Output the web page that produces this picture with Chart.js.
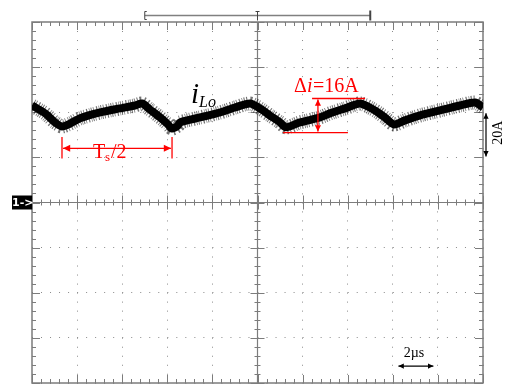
<!DOCTYPE html>
<html>
<head>
<meta charset="utf-8">
<script src="https://cdn.jsdelivr.net/npm/chart.js@4.4.1/dist/chart.umd.min.js"></script>
<style>
  html, body { margin: 0; padding: 0; background: #fff; }
  #wrap { width: 506px; height: 385px; position: relative; }
</style>
</head>
<body>
<div id="wrap"><canvas id="scope"></canvas></div>
<script>
// time axis: 10 div x 2 us/div, amplitude: 8 div x 20 A/div
const TIME_US = [0, 0.58, 1.02, 1.33, 1.69, 2.13, 3.02, 3.90, 4.57, 4.88, 5.23, 5.68, 6.03, 6.21, 6.47,
  6.56, 7.45, 8.34, 9.00, 9.67, 10.11, 10.55, 11.00, 11.26, 11.88, 12.77, 13.21, 13.88, 14.55,
  15.21, 15.65, 16.05, 16.54, 17.21, 18.09, 18.98, 19.65, 20];
const I_LO_A = [43.0, 39.5, 35.5, 33.7, 35.0, 37.3, 39.9, 41.7, 43.0, 43.9, 41.2, 37.7, 34.6, 32.8, 34.1,
  35.5, 37.7, 39.9, 42.1, 43.9, 41.7, 38.6, 35.5, 33.3, 35.5, 37.7, 39.5, 41.7, 43.9,
  40.8, 37.7, 34.6, 36.4, 38.6, 40.8, 43.0, 44.3, 42.1];

const X_MIN = 0, X_MAX = 20, X_DIV = 2;
const Y_MIN = -80, Y_MAX = 80, Y_DIV = 20;

const SERIF = '"Liberation Serif", "Times New Roman", serif';
const RED = '#ff0000';

function line(ctx, x1, y1, x2, y2) {
    ctx.beginPath();
    ctx.moveTo(x1, y1);
    ctx.lineTo(x2, y2);
    ctx.stroke();
}

function arrowHead(ctx, x1, y1, x2, y2, size) {
    const ang = Math.atan2(y2 - y1, x2 - x1);
    ctx.beginPath();
    ctx.moveTo(x2, y2);
    ctx.lineTo(x2 - size * Math.cos(ang - 0.45), y2 - size * Math.sin(ang - 0.45));
    ctx.lineTo(x2 - size * Math.cos(ang + 0.45), y2 - size * Math.sin(ang + 0.45));
    ctx.closePath();
    ctx.fill();
}

function doubleArrow(ctx, x1, y1, x2, y2, size) {
    line(ctx, x1, y1, x2, y2);
    arrowHead(ctx, x1, y1, x2, y2, size);
    arrowHead(ctx, x2, y2, x1, y1, size);
}

// frame, centre cross and the small division ticks
const scopeFrame = {
    id: 'scopeFrame',
    beforeDatasetsDraw(chart) {
        const { ctx, chartArea: a, scales: { x, y } } = chart;
        const cx = x.getPixelForValue((X_MIN + X_MAX) / 2);
        const cy = y.getPixelForValue(0);
        ctx.save();
        ctx.strokeStyle = '#7c7c7c';
        ctx.lineWidth = 1.5;
        ctx.strokeRect(a.left, a.top, a.right - a.left, a.bottom - a.top);
        ctx.lineWidth = 1.2;
        line(ctx, a.left, cy, a.right, cy);
        line(ctx, cx, a.top, cx, a.bottom);

        ctx.lineWidth = 1;
        const nx = (X_MAX - X_MIN) / X_DIV * 5;
        for (let i = 0; i <= nx; i++) {
            const px = Math.round(x.getPixelForValue(X_MIN + i * X_DIV / 5)) + 0.5;
            const major = i % 5 === 0;
            const L = major ? 8 : 4;
            line(ctx, px, a.top, px, a.top + L);
            line(ctx, px, a.bottom, px, a.bottom - L);
            line(ctx, px, cy - (major ? 7 : 3), px, cy + (major ? 7 : 3));
        }
        const ny = (Y_MAX - Y_MIN) / Y_DIV * 5;
        for (let i = 0; i <= ny; i++) {
            const py = Math.round(y.getPixelForValue(Y_MIN + i * Y_DIV / 5)) + 0.5;
            const major = i % 5 === 0;
            const L = major ? 8 : 4;
            line(ctx, a.left, py, a.left + L, py);
            line(ctx, a.right, py, a.right - L, py);
            line(ctx, cx - (major ? 7 : 3), py, cx + (major ? 7 : 3), py);
        }
        ctx.restore();
    },
    afterDraw(chart) {
        const { ctx, chartArea: a, scales: { x, y } } = chart;
        const cy = y.getPixelForValue(0);
        ctx.save();

        // top trigger/memory bar
        const bx1 = x.getPixelForValue(5), bx2 = x.getPixelForValue(15), bm = x.getPixelForValue(10);
        const by = 15.5;
        ctx.strokeStyle = '#808080';
        ctx.lineWidth = 1.5;
        line(ctx, bx1, by, bx2, by);
        ctx.strokeStyle = '#444';
        ctx.lineWidth = 1;
        line(ctx, bx1, by - 4, bx1, by + 4);
        line(ctx, bx1, by - 4, bx1 + 2, by - 4);
        line(ctx, bx1, by + 4, bx1 + 2, by + 4);
        line(ctx, bm, by - 4, bm, by + 5);
        line(ctx, bm - 2, by - 4, bm + 2, by - 4);
        ctx.lineWidth = 2;
        line(ctx, bx2, by - 5, bx2, by + 5);

        // channel marker
        ctx.fillStyle = '#000';
        ctx.fillRect(12, cy - 7, 20, 14);
        ctx.fillStyle = '#fff';
        ctx.font = 'bold 11px "DejaVu Sans", sans-serif';
        ctx.textBaseline = 'middle';
        ctx.textAlign = 'left';
        ctx.fillText('1->', 12, cy + 1);

        // trace label i_Lo
        ctx.fillStyle = '#000';
        ctx.textBaseline = 'alphabetic';
        ctx.font = 'italic 29px ' + SERIF;
        ctx.fillText('i', 191, 103);
        ctx.font = 'italic 16px ' + SERIF;
        ctx.fillText('Lo', 199, 107);

        // scale: 20 A/div on the right
        const ry1 = y.getPixelForValue(40), ry2 = y.getPixelForValue(20);
        ctx.strokeStyle = '#000';
        ctx.fillStyle = '#000';
        ctx.lineWidth = 1.2;
        doubleArrow(ctx, a.right + 3, ry1 + 1, a.right + 3, ry2 - 1, 6);
        ctx.save();
        ctx.translate(a.right + 15, (ry1 + ry2) / 2 - 2);
        ctx.rotate(-Math.PI / 2);
        ctx.font = '14px ' + SERIF;
        ctx.textAlign = 'center';
        ctx.textBaseline = 'middle';
        ctx.fillText('20A', 0, 0);
        ctx.restore();

        // scale: 2 us/div
        const tx1 = x.getPixelForValue(16.25), tx2 = x.getPixelForValue(17.8);
        const ty = y.getPixelForValue(-72.5);
        doubleArrow(ctx, tx1, ty, tx2, ty, 6);
        ctx.font = '14px ' + SERIF;
        ctx.textAlign = 'center';
        ctx.textBaseline = 'alphabetic';
        ctx.fillText('2\u00b5s', (tx1 + tx2) / 2 - 2, ty - 9);

        // red annotations: Ts/2
        ctx.strokeStyle = RED;
        ctx.fillStyle = RED;
        ctx.lineWidth = 1.3;
        const sx1 = x.getPixelForValue(1.33), sx2 = x.getPixelForValue(6.21);
        const sy = y.getPixelForValue(24);
        line(ctx, sx1, y.getPixelForValue(29), sx1, y.getPixelForValue(19.5));
        line(ctx, sx2, y.getPixelForValue(29), sx2, y.getPixelForValue(19.5));
        doubleArrow(ctx, sx1 + 1, sy, sx2 - 1, sy, 8);
        ctx.textAlign = 'left';
        ctx.font = '20px ' + SERIF;
        ctx.fillText('T', 93, 158);
        ctx.font = '13px ' + SERIF;
        ctx.fillText('s', 105, 161);
        ctx.font = '20px ' + SERIF;
        ctx.fillText('/2', 111, 158);

        // red annotations: delta i
        const dTop = y.getPixelForValue(46.1), dBot = y.getPixelForValue(31.0);
        line(ctx, x.getPixelForValue(12.42), dTop, x.getPixelForValue(14.77), dTop);
        line(ctx, x.getPixelForValue(11.13), dBot, x.getPixelForValue(14.01), dBot);
        const ax = x.getPixelForValue(12.68);
        doubleArrow(ctx, ax, dTop + 1, ax, dBot - 1, 7);
        ctx.font = '20px ' + SERIF;
        ctx.fillText('\u0394', 294, 92);
        ctx.font = 'italic 20px ' + SERIF;
        ctx.fillText('i', 307, 92);
        ctx.font = '20px ' + SERIF;
        ctx.fillText('=16A', 313, 92);

        ctx.restore();
    }
};

const points = TIME_US.map((t, i) => ({ x: t, y: I_LO_A[i] }));

new Chart(document.getElementById('scope'), {
    type: 'line',
    data: {
        datasets: [{
            label: 'iLo',
            data: points,
            borderColor: '#000',
            borderWidth: 8,
            borderCapStyle: 'butt',
            pointRadius: 0,
            tension: 0.25,
            fill: false,
            clip: 0,
        }, {
            // fuzzy edge of the noisy trace
            label: 'iLo band',
            data: points,
            borderColor: 'rgba(0,0,0,0.55)',
            borderWidth: 14,
            borderDash: [1, 1.3, 0.8, 2.2, 1.2, 1.6, 0.7, 1.1],
            borderCapStyle: 'butt',
            pointRadius: 0,
            tension: 0.25,
            fill: false,
            clip: 0,
        }],
    },
    options: {
        responsive: true,
        maintainAspectRatio: false,
        animation: false,
        layout: { padding: { left: 32, right: 23, top: 22, bottom: 2 } },
        plugins: {
            legend: { display: false },
            tooltip: { enabled: false },
        },
        scales: {
            x: {
                type: 'linear',
                min: X_MIN,
                max: X_MAX,
                ticks: { display: false, stepSize: X_DIV },
                grid: { color: '#8a8a8a', lineWidth: 1, drawTicks: false },
                border: { display: false, dash: [1, 8.02] },
            },
            y: {
                type: 'linear',
                min: Y_MIN,
                max: Y_MAX,
                ticks: { display: false, stepSize: Y_DIV },
                grid: { color: '#8a8a8a', lineWidth: 1, drawTicks: false },
                border: { display: false, dash: [1, 8.02] },
            },
        },
    },
    plugins: [scopeFrame],
});
</script>
</body>
</html>
